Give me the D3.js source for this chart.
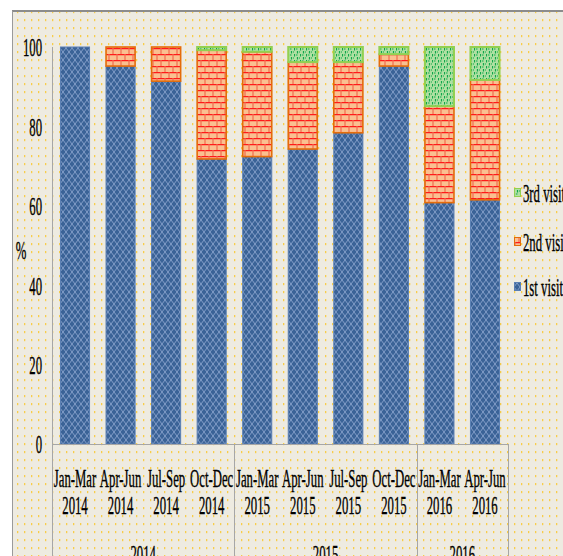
<!DOCTYPE html>
<html>
<head>
<meta charset="utf-8">
<script src="https://cdn.jsdelivr.net/npm/d3@7"></script>
<style>
  body { margin: 0; background: #fff; }
  svg { display: block; }
  text { font-family: "Liberation Serif", "Times New Roman", serif; fill: #000; stroke: #000; stroke-width: 0.35px; }
</style>
</head>
<body>
<div id="chart"></div>
<script>
// chart values
var quarters = ["Jan-Mar", "Apr-Jun", "Jul-Sep", "Oct-Dec", "Jan-Mar", "Apr-Jun", "Jul-Sep", "Oct-Dec", "Jan-Mar", "Apr-Jun"];
var years = ["2014", "2014", "2014", "2014", "2015", "2015", "2015", "2015", "2016", "2016"];
var firstVisit = [100, 95.2, 91.4, 71.8, 72.4, 74.3, 78.4, 95.2, 60.8, 61.5];
var secondVisit = [0, 4.8, 8.6, 27.4, 26.4, 21.9, 17.8, 3.0, 24.3, 30.2];
var thirdVisit = [0, 0, 0, 0.8, 1.2, 3.8, 3.8, 1.8, 14.9, 8.3];
var yTicks = [0, 20, 40, 60, 80, 100];
var groupYears = ["2014", "2015", "2016"];
var seriesNames = ["1st visit", "2nd visit", "3rd visit"];

var W = 563, H = 556;
var plot = {l: 52, r: 508, t: 47, b: 444};
var sx = 0.51;   // the original text is squeezed sideways
var fs = 25;

var rows = quarters.map(function(q, i) {
    return {key: i, q: q, year: years[i], s0: firstVisit[i], s1: secondVisit[i], s2: thirdVisit[i]};
});

var svg = d3.select('#chart').append('svg')
    .attr('width', W)
    .attr('height', H);

var defs = svg.append('defs');

// yellow dotted background
var pBg = defs.append('pattern').attr('id', 'bg')
    .attr('patternUnits', 'userSpaceOnUse').attr('width', 7).attr('height', 8);
pBg.append('rect').attr('width', 7).attr('height', 8).attr('fill', '#EEEBE1');
pBg.append('rect').attr('x', 3).attr('y', 3).attr('width', 1.3).attr('height', 2.2).attr('fill', '#F8CD4A');

// 1st visit: blue lattice
var p1 = defs.append('pattern').attr('id', 'p1')
    .attr('patternUnits', 'userSpaceOnUse').attr('width', 6).attr('height', 8);
p1.append('rect').attr('width', 6).attr('height', 8).attr('fill', '#3B6397');
p1.append('path').attr('d', 'M0,0 L3,4 L6,0 M0,8 L3,4 L6,8')
    .attr('stroke', '#89A3CD').attr('stroke-width', 0.9).attr('fill', 'none');

// 2nd visit: bricks
var p2 = defs.append('pattern').attr('id', 'p2')
    .attr('patternUnits', 'userSpaceOnUse').attr('width', 8).attr('height', 12);
p2.append('rect').attr('width', 8).attr('height', 12).attr('fill', '#FAC090');
p2.append('path').attr('d', 'M0,0.6 H8 M0,6.6 H8')
    .attr('stroke', '#FF1A1A').attr('stroke-width', 1.3);
p2.append('path').attr('d', 'M1,0 V6 M5,6 V12')
    .attr('stroke', '#F26B4E').attr('stroke-width', 1.2);

// 3rd visit: green confetti
var p3 = defs.append('pattern').attr('id', 'p3')
    .attr('patternUnits', 'userSpaceOnUse').attr('width', 6).attr('height', 6);
p3.append('rect').attr('width', 6).attr('height', 6).attr('fill', '#B0E0A2');
p3.append('path').attr('d', 'M0.5,0 V2.5 M3.5,3 V5.5 M2,1 H3.5 M5,4 H6')
    .attr('stroke', '#0FA84A').attr('stroke-width', 1.2);

var fills = ['url(#p1)', 'url(#p2)', 'url(#p3)'];
var strokes = ['#5A7FB3', '#E46C0A', '#92D050'];
var strokeW = [1, 1.6, 2];

svg.append('rect').attr('x', 12).attr('y', 12).attr('width', W - 12).attr('height', H - 12)
    .attr('fill', 'url(#bg)');
svg.append('line').attr('x1', 12).attr('x2', W).attr('y1', 11).attr('y2', 11)
    .attr('stroke', '#8C8C8C').attr('stroke-width', 2);
svg.append('line').attr('x1', 12.5).attr('x2', 12.5).attr('y1', 11).attr('y2', H)
    .attr('stroke', '#9A9A9A').attr('stroke-width', 1);

var xScale = d3.scaleBand()
    .domain(rows.map(function(d) { return d.key; }))
    .range([plot.l, plot.r])
    .paddingInner(0.34)
    .paddingOuter(0.175);

var yScale = d3.scaleLinear()
    .domain([0, 100])
    .range([plot.b, plot.t]);

var stack = d3.stack().keys(['s0', 's1', 's2']);
var layers = stack(rows);

svg.append('g').attr('class', 'bars')
    .selectAll('g')
    .data(layers).enter()
    .append('g')
        .attr('fill', function(d, i) { return fills[i]; })
        .attr('stroke', function(d, i) { return strokes[i]; })
        .attr('stroke-width', function(d, i) { return strokeW[i]; })
    .selectAll('rect')
    .data(function(d) { return d.filter(function(p) { return p[1] - p[0] > 0; }); }).enter()
    .append('rect')
        .attr('x', function(d) { return xScale(d.data.key) + 0.5; })
        .attr('width', xScale.bandwidth() - 1)
        .attr('y', function(d) { return yScale(d[1]); })
        .attr('height', function(d) { return yScale(d[0]) - yScale(d[1]); });

// y axis
var yAxis = d3.axisLeft(yScale).tickValues(yTicks).tickSize(0).tickPadding(0);
var gy = svg.append('g').attr('class', 'axis y')
    .attr('transform', 'translate(' + plot.l + ',0)')
    .call(yAxis);
gy.select('.domain').attr('stroke', '#A6A6A6').attr('d', 'M0.5,' + plot.t + 'V' + H);
gy.selectAll('text')
    .attr('x', 0).attr('dy', null)
    .attr('dominant-baseline', 'central')
    .attr('transform', 'translate(-10,0) scale(' + sx + ',1)')
    .style('font-size', fs + 'px')
    .attr('fill', '#000');

svg.append('text')
    .attr('transform', 'translate(21,250) scale(' + sx + ',1)')
    .attr('text-anchor', 'middle')
    .attr('dominant-baseline', 'central')
    .style('font-size', fs + 'px')
    .text('%');

// x axis with two-line labels
var xAxis = d3.axisBottom(xScale).tickSize(0).tickPadding(0).tickFormat(function() { return ''; });
var gx = svg.append('g').attr('class', 'axis x')
    .attr('transform', 'translate(0,' + plot.b + ')')
    .call(xAxis);
gx.select('.domain').attr('stroke', '#A6A6A6').attr('d', 'M' + plot.l + ',0.5H' + plot.r);
gx.selectAll('.tick text').each(function(k) {
    var t = d3.select(this)
        .attr('y', 0).attr('dy', null)
        .attr('transform', 'translate(0,43) scale(' + sx + ',1)')
        .style('font-size', fs + 'px');
    t.append('tspan').attr('x', 0).attr('y', 0).text(rows[k].q);
    t.append('tspan').attr('x', 0).attr('y', 27).text(rows[k].year);
});

// year groups and separators
var groups = groupYears.map(function(y) {
    var idx = rows.filter(function(d) { return d.year === y; }).map(function(d) { return d.key; });
    return {year: y, a: idx[0], b: idx[idx.length - 1]};
});
var step = xScale.step();
var edgeLeft = function(g) { return g.a === 0 ? plot.l : xScale(g.a) - step * xScale.paddingInner() / 2; };
var edgeRight = function(g) { return g.b === rows.length - 1 ? plot.r : xScale(g.b) + xScale.bandwidth() + step * xScale.paddingInner() / 2; };

svg.append('g').selectAll('line')
    .data(groups).enter()
    .append('line')
        .attr('x1', function(g) { return Math.round(edgeRight(g)) + 0.5; })
        .attr('x2', function(g) { return Math.round(edgeRight(g)) + 0.5; })
        .attr('y1', plot.b).attr('y2', H)
        .attr('stroke', '#A6A6A6');

// the year row sits at the lower edge, as in the original
svg.append('g').selectAll('text')
    .data(groups).enter()
    .append('text')
        .attr('transform', function(g) { return 'translate(' + ((edgeLeft(g) + edgeRight(g)) / 2) + ',563) scale(' + sx + ',1)'; })
        .attr('text-anchor', 'middle')
        .style('font-size', fs + 'px')
        .text(function(g) { return g.year; });

// legend
var legendY = [287, 242, 193];
var lg = svg.append('g').attr('class', 'legend')
    .selectAll('g')
    .data(seriesNames).enter()
    .append('g')
        .attr('transform', function(d, i) { return 'translate(514,' + legendY[i] + ')'; });
lg.append('rect')
    .attr('x', 0.5).attr('y', -4.5).attr('width', 6).attr('height', 8)
    .attr('fill', function(d, i) { return fills[i]; })
    .attr('stroke', function(d, i) { return strokes[i]; })
    .attr('stroke-width', 1);
lg.append('text')
    .attr('transform', 'translate(9,0) scale(' + sx + ',1)')
    .attr('dominant-baseline', 'central')
    .style('font-size', fs + 'px')
    .text(function(d) { return d; });
</script>
</body>
</html>
